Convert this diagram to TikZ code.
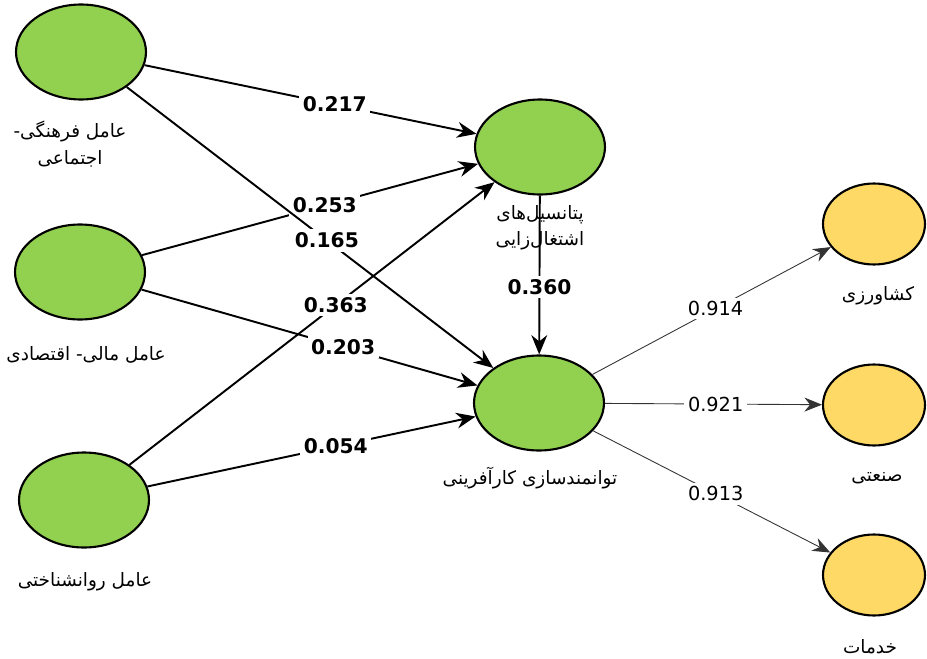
\documentclass[tikz,border=0pt]{standalone}
\usepackage{fontspec}
\setmainfont{DejaVu Sans}
\newfontfamily\fa[Script=Arabic]{DejaVu Sans}
\TeXXeTstate=1
\usetikzlibrary{arrows.meta, shapes.geometric}
\definecolor{latgreen}{RGB}{146,208,80}
\definecolor{latyellow}{RGB}{255,217,102}

\begin{document}
\begin{tikzpicture}[x=0.02cm, y=-0.02cm,
    latent/.style={ellipse, draw=black, line width=1.2pt, fill=latgreen, inner sep=0pt, minimum width=2.6cm, minimum height=1.9cm},
    outcome/.style={ellipse, draw=black, line width=1.2pt, fill=latyellow, inner sep=0pt, minimum width=2.04cm, minimum height=1.62cm},
    title/.style={font=\fa\fontsize{10.5}{15}\selectfont, align=center},
    path/.style={-{Stealth[length=11pt, width=9pt]}, line width=1.1pt},
    load/.style={-{Stealth[length=10pt, width=8pt]}, line width=0.5pt, draw=black!80},
    coef/.style={fill=white, inner sep=2pt, font=\bfseries\fontsize{11.5}{13}\selectfont},
    lcoef/.style={fill=white, inner sep=2pt, font=\fontsize{11}{13}\selectfont}]
    \useasboundingbox (0,0) rectangle (927,659);

    % latent factors
    \node[latent] (cult) at (81,52) {};
    \node[latent] (econ) at (80,272) {};
    \node[latent] (psy) at (84,500) {};
    \node[latent] (pot) at (540,147) {};
    \node[latent] (emp) at (539,403) {};
    \node[outcome] (agri) at (874,224) {};
    \node[outcome] (ind) at (874,405) {};
    \node[outcome] (serv) at (874,575) {};

    \node[title] (cultlbl) at (70,144) {\beginR عامل فرهنگی-\endR\\\beginR اجتماعی\endR};
    \node[title] (econlbl) at (86,355) {\beginR عامل مالی- اقتصادی\endR};
    \node[title] (psylbl) at (85,582) {\beginR عامل روانشناختی\endR};
    \node[title] (potlbl) at (540,228) {\beginR پتانسیل‌های\endR\\\beginR اشتغال‌زایی\endR};
    \node[title] (emplbl) at (530,478) {\beginR توانمندسازی کارآفرینی\endR};
    \node[title] (agrilbl) at (878,296) {\beginR کشاورزی\endR};
    \node[title] (indlbl) at (877,478) {\beginR صنعتی\endR};
    \node[title] (servlbl) at (870,647) {\beginR خدمات\endR};

    % structural paths
    \draw[path] (cult) -- (pot) node[coef, pos=0.573] (c1) {0.217};
    \draw[path] (econ) -- (pot) node[coef, pos=0.544] (c2) {0.253};
    \draw[path] (cult) -- (emp) node[coef, pos=0.546] (c3) {0.165};
    \draw[path] (psy) -- (pot) node[coef, pos=0.565] (c4) {0.363};
    \draw[path] (econ) -- (emp) node[coef, pos=0.6] (c5) {0.203};
    \draw[path] (psy) -- (emp) node[coef, pos=0.574] (c6) {0.054};
    \draw[path] (pot) -- (emp) node[coef, pos=0.575] (c7) {0.360};

    % outer loadings
    \draw[load] (emp) -- (agri) node[lcoef, pos=0.517] (l1) {0.914};
    \draw[load] (emp) -- (ind) node[lcoef, pos=0.51] (l2) {0.921};
    \draw[load] (emp) -- (serv) node[lcoef, pos=0.517] (l3) {0.913};
\end{tikzpicture}
\end{document}
